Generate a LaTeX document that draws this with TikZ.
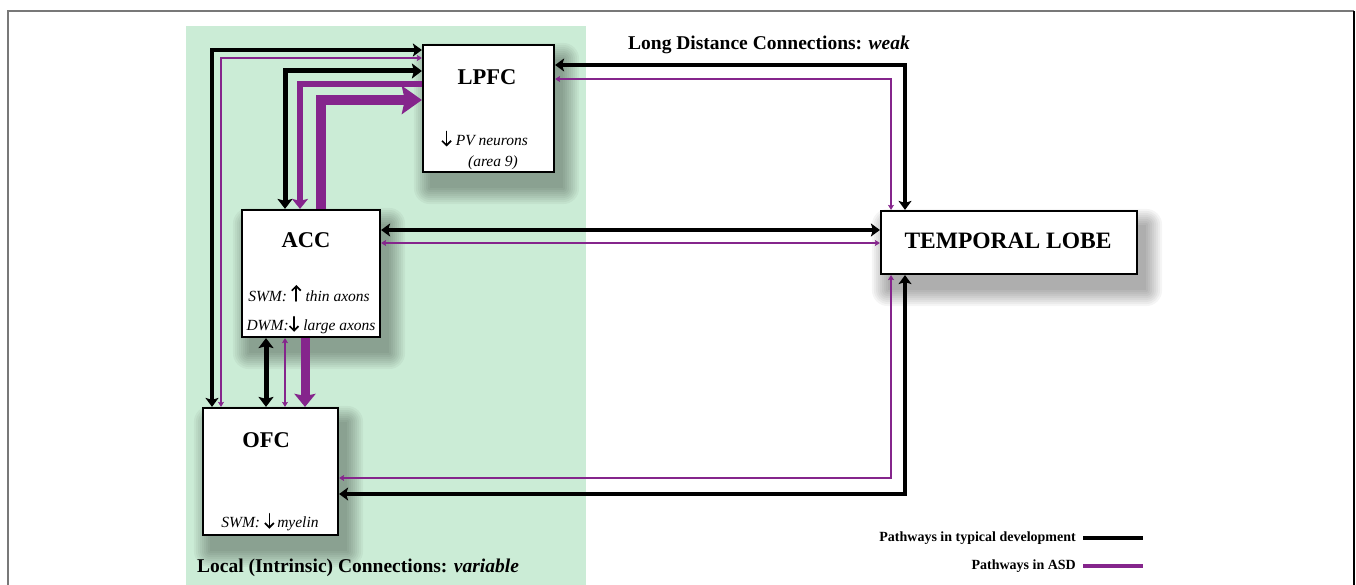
\documentclass[tikz,border=0pt]{standalone}
\usepackage{fontspec}
\setmainfont{Liberation Serif}
\usetikzlibrary{arrows.meta,calc}
\definecolor{asd}{RGB}{133,37,140}
\definecolor{localgreen}{RGB}{203,236,214}
\definecolor{framegray}{RGB}{120,120,120}
\pgfdeclarelayer{bg}
\pgfsetlayers{bg,main}
\newcommand\uparr{\tikz[x=1pt,y=1pt,baseline=-2pt]{\draw[line width=1.7pt, line cap=round,
  -{Straight Barb[length=4.5pt,width=9pt,line width=1.7pt]}] (0,-2) -- (0,14);}}
\newcommand\dnarr{\tikz[x=1pt,y=1pt,baseline=-2pt]{\draw[line width=1.7pt, line cap=round,
  -{Straight Barb[length=4.5pt,width=9pt,line width=1.7pt]}] (0,12) -- (0,-3);}}
\tikzset{
  box/.style={draw=black, line width=2.2pt, fill=white, inner sep=0pt, rectangle},
  title/.style={font=\fontsize{22.5}{24}\selectfont\bfseries, inner sep=0pt},
  note/.style={font=\fontsize{15.5}{17}\selectfont\itshape, inner sep=0pt},
  hdr/.style={font=\fontsize{19.5}{21}\selectfont\bfseries, inner sep=0pt},
  leg/.style={font=\fontsize{14}{16}\selectfont\bfseries, inner sep=0pt, anchor=east},
  blk/.style={draw=black, line width=4pt,
    {Stealth[length=9pt,width=13pt,inset=2pt]}-{Stealth[length=9pt,width=13pt,inset=2pt]}},
  blkthick/.style={draw=black, line width=5pt,
    {Stealth[length=10pt,width=15pt,inset=2pt]}-{Stealth[length=10pt,width=15pt,inset=2pt]}},
  asdthin/.style={draw=asd, line width=1.8pt,
    {Stealth[length=5pt,width=6pt,inset=1pt]}-{Stealth[length=5pt,width=6pt,inset=1pt]}},
  asdmed/.style={draw=asd, line width=6.5pt,
    -{Stealth[length=10pt,width=16pt,inset=2pt]}},
  asdthick/.style={draw=asd, line width=10pt,
    -{Stealth[length=20pt,width=28pt,inset=3pt]}},
  asdthickb/.style={draw=asd, line width=9pt,
    -{Stealth[length=13pt,width=21pt,inset=2pt]}},
}
\newcommand\myshadow[1]{%
  \foreach \r in {0,2,...,16}{%
    \fill[black,opacity=0.04,rounded corners=\r pt]
      ($(#1.north west)+(8-\r,15-\r)$) rectangle ($(#1.south east)+(8+\r,15+\r)$);
  }%
}
\begin{document}
\begin{tikzpicture}[x=1pt,y=-1pt]
\useasboundingbox (0,0) rectangle (1356,585);

% boxes
\node[box, minimum width=131pt, minimum height=127pt] (LPFC) at (488.5,108.5) {};
\node[box, minimum width=138pt, minimum height=127pt] (ACC) at (311,273.5) {};
\node[box, minimum width=135pt, minimum height=127pt] (OFC) at (270.5,471.5) {};
\node[box, minimum width=256pt, minimum height=63pt] (TEMP) at (1009,242.5) {};

\begin{pgfonlayer}{bg}
  \fill[white] (0,0) rectangle (1356,585);
  \fill[localgreen] (186,26) rectangle (586,585);
  \myshadow{LPFC}
  \myshadow{ACC}
  \myshadow{OFC}
  \myshadow{TEMP}
\end{pgfonlayer}

% frame
\draw[framegray, line width=2pt] (8,585) -- (8,11) -- (1354,11);
\draw[black, line width=2pt] (1354,11) -- (1354,585);

% box texts
\node[title] (tLPFC) at (487,77) {LPFC};
\node[note, anchor=west] (nLPFC1) at (441,139) {\dnarr\ PV neurons};
\node[note] (nLPFC2) at (493,163) {(area 9)};

\node[title] (tACC) at (306,240) {ACC};
\node[note] (nACC1) at (309,293) {SWM: \uparr\ thin axons};
\node[note] (nACC2) at (311,325) {DWM:\dnarr\ large axons};

\node[title] (tOFC) at (266,440) {OFC};
\node[note] (nOFC) at (270,522) {SWM: \dnarr\,myelin};

\node[title, font=\fontsize{23.5}{25}\selectfont\bfseries] (tTEMP) at (1008,241) {TEMPORAL LOBE};

% headers
\node[hdr] (long) at (769,45) {Long Distance Connections: \textit{weak}};
\node[hdr, anchor=west] (local) at (197,568) {Local (Intrinsic) Connections: \textit{variable}};

% local connectors
\draw[blk] (LPFC.west |- 0,50) -| (OFC.north -| 212,0);
\draw[asdthin] (LPFC.west |- 0,58) -| (OFC.north -| 221,0);
\draw[blkthick] (LPFC.west |- 0,71) -| (ACC.north -| 285,0);
\draw[asdmed] (LPFC.west |- 0,84) -| (ACC.north -| 300,0);
\draw[asdthick] (ACC.north -| 321,0) |- (LPFC.west |- 0,100);

\draw[blkthick] (ACC.south -| 266,0) -- (OFC.north -| 266,0);
\draw[asdthin] (OFC.north -| 285,0) -- (ACC.south -| 285,0);
\draw[asdthickb] (ACC.south -| 305,0) -- (OFC.north -| 305,0);

% long distance connectors
\draw[blk] (ACC.east |- 0,230) -- (TEMP.west |- 0,230);
\draw[asdthin] (ACC.east |- 0,243) -- (TEMP.west |- 0,243);
\draw[blk] (LPFC.east |- 0,65) -| (TEMP.north -| 905,0);
\draw[asdthin] (LPFC.east |- 0,79) -| (TEMP.north -| 891,0);
\draw[blk] (OFC.east |- 0,494) -| (TEMP.south -| 905,0);
\draw[asdthin] (OFC.east |- 0,478) -| (TEMP.south -| 891,0);

% legend
\node[leg] (leg1) at (1076,538) {Pathways in typical development};
\node[leg] (leg2) at (1076,566) {Pathways in ASD};
\coordinate (l1a) at (1083,538);
\coordinate (l1b) at (1143,538);
\coordinate (l2a) at (1083,566);
\coordinate (l2b) at (1143,566);
\draw[black, line width=4pt] (l1a) -- (l1b);
\draw[asd, line width=4pt] (l2a) -- (l2b);
\end{tikzpicture}
\end{document}
